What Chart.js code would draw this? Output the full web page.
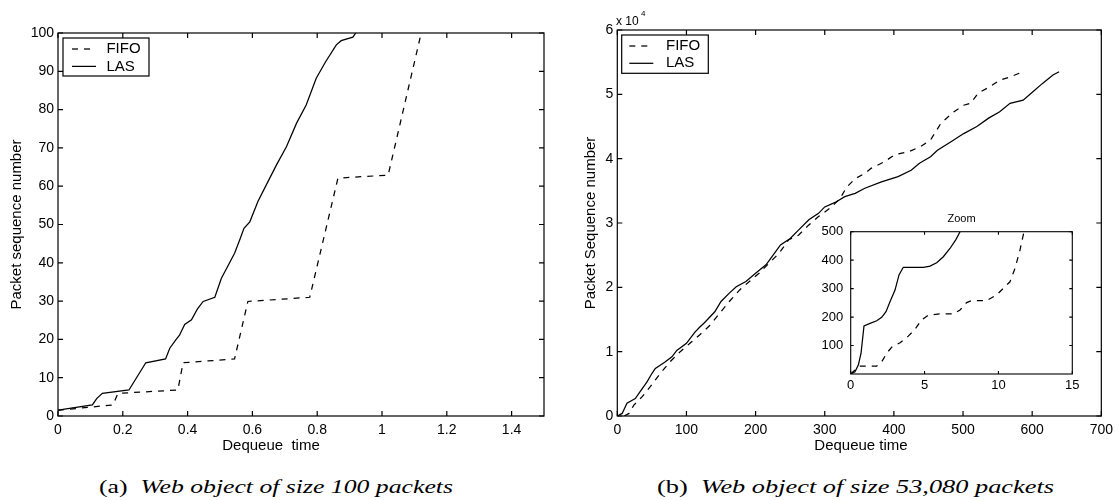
<!DOCTYPE html>
<html>
<head>
<meta charset="utf-8">
<script src="https://cdn.jsdelivr.net/npm/chart.js@4.4.1/dist/chart.umd.min.js"></script>
<style>
  html, body { margin: 0; padding: 0; background: #fff; width: 1119px; height: 500px; overflow: hidden; }
  canvas { position: absolute; }
  #chartA { left: 0; top: 0; }
  #chartB { left: 560px; top: 0; }
  #chartZ { left: 800px; top: 200px; }
  .cap { position: absolute; top: 477px; font-family: "Liberation Serif", "Times New Roman", Times, serif; font-size: 18px;
         line-height: 20px; white-space: pre; transform-origin: 0 0; color: #000; }
  .cap i { font-style: italic; }
</style>
</head>
<body>
<canvas id="chartA" width="560" height="460"></canvas>
<canvas id="chartB" width="559" height="460"></canvas>
<canvas id="chartZ" width="290" height="200"></canvas>
<div class="cap" id="capA">(a)  <i>Web object of size 100 packets</i></div>
<div class="cap" id="capB">(b)  <i>Web object of size 53,080 packets</i></div>

<script>
// ---------- (a) web object of 100 packets ----------
const fifoTimeA = [0, 0.170, 0.185, 0.370, 0.386, 0.545, 0.586, 0.777, 0.864, 1.019, 1.121];
const fifoSeqA  = [1.5, 2.9, 5.9, 6.8, 13.9, 14.9, 29.9, 31.0, 62.1, 62.9, 100];
const lasTimeA  = [0, 0.106, 0.120, 0.137, 0.219, 0.271, 0.332, 0.345, 0.363, 0.375, 0.391, 0.412, 0.430,
                   0.448, 0.484, 0.504, 0.530, 0.545, 0.561, 0.574, 0.592, 0.617, 0.648, 0.674, 0.705,
                   0.736, 0.766, 0.797, 0.826, 0.859, 0.874, 0.910, 0.919];
const lasSeqA   = [1.5, 2.9, 4.6, 5.9, 6.8, 13.9, 14.9, 17.7, 19.8, 21.1, 23.9, 25.1, 27.9,
                   29.9, 31.0, 35.9, 40.1, 42.5, 46.0, 49.0, 50.7, 56.0, 61.2, 65.5, 70.3,
                   76.4, 81.2, 88.2, 92.5, 96.9, 98.0, 98.9, 100];
const xTicksA = [0, 0.2, 0.4, 0.6, 0.8, 1, 1.2, 1.4];
const yTicksA = [0, 10, 20, 30, 40, 50, 60, 70, 80, 90, 100];

// ---------- (b) web object of 53,080 packets ----------
const fifoTimeB = [10, 17, 24, 36, 48, 62, 76, 91, 105, 119, 134, 146, 162, 177, 191, 205, 219, 234, 248, 262,
                   277, 291, 310, 322, 332, 344, 358, 367, 386, 401, 422, 439, 453, 468, 487, 501, 511, 522,
                   539, 553, 568, 582];
const fifoSeqB  = [0, 400, 1700, 3000, 4600, 6600, 8400, 10000, 11300, 12600, 14100, 15700, 17800, 19600,
                   20900, 22200, 23700, 25300, 27400, 28100, 29700, 31000, 32500, 33800, 35600, 36900,
                   37700, 38500, 39500, 40600, 41100, 41900, 42900, 45500, 47300, 48300, 48600, 50200,
                   51200, 52200, 52700, 53300];
const lasTimeB  = [0, 7, 14, 26, 33, 43, 50, 55, 62, 69, 79, 86, 100, 112, 119, 126, 141, 150, 162, 172, 186,
                   200, 215, 224, 236, 250, 262, 277, 291, 300, 315, 329, 344, 358, 382, 406, 425, 437, 453,
                   463, 482, 501, 520, 537, 553, 568, 587, 601, 615, 630, 639];
const lasSeqB   = [0, 400, 2000, 2700, 3800, 5300, 6600, 7400, 7900, 8400, 9200, 10200, 11300, 13000, 13800,
                   14500, 16200, 17800, 19100, 20100, 20900, 22200, 23500, 24800, 26600, 27600, 28900, 30500,
                   31500, 32500, 33200, 34100, 34600, 35400, 36400, 37200, 38200, 39300, 40300, 41300, 42600,
                   43900, 45000, 46300, 47300, 48600, 49100, 50400, 51700, 53000, 53500];
const xTicksB = [0, 100, 200, 300, 400, 500, 600, 700];
const yTicksB = [0, 10000, 20000, 30000, 40000, 50000, 60000];

// ---------- zoom on the first 15 time units of (b) ----------
const fifoTimeZ = [0, 0.41, 0.63, 1.76, 2.10, 2.44, 2.77, 3.34, 3.90, 4.35, 4.80, 5.26, 6.05, 6.95, 7.40,
                   7.85, 8.19, 9.20, 9.88, 10.33, 10.78, 11.12, 11.46, 11.73];
const fifoSeqZ  = [0, 20, 28, 28, 43, 73, 94, 110, 133, 157, 190, 207, 211, 211, 225, 251, 258, 258, 278,
                   301, 324, 371, 436, 500];
const lasTimeZ  = [0, 0.29, 0.52, 0.70, 0.90, 1.31, 1.76, 2.10, 2.39, 2.66, 3.00, 3.27, 3.56, 4.92, 5.37,
                   5.82, 6.27, 6.72, 7.13, 7.40];
const lasSeqZ   = [0, 8, 32, 73, 169, 178, 187, 199, 219, 254, 295, 348, 375, 375, 379, 391, 412, 441, 473, 500];
const xTicksZ = [0, 5, 10, 15];
const yTicksZ = [100, 200, 300, 400, 500];

const seriesNames = ['FIFO', 'LAS'];

const FONT = '"Liberation Sans", Arial, Helvetica, sans-serif';
Chart.defaults.font.family = FONT;
Chart.defaults.color = '#000';

function pts(xs, ys) { return xs.map((x, i) => ({ x: x, y: ys[i] })); }

function datasets(fifoX, fifoY, lasX, lasY) {
  const common = { borderColor: '#000', borderWidth: 1.25, pointRadius: 0, tension: 0, fill: false };
  return [
    Object.assign({ label: seriesNames[0], data: pts(fifoX, fifoY), borderDash: [6, 6] }, common),
    Object.assign({ label: seriesNames[1], data: pts(lasX, lasY), borderDash: [] }, common)
  ];
}

// Boxed axes with inward tick marks on all four sides, an inset legend and free text.
const boxPlugin = {
  id: 'box',
  beforeDatasetsDraw(chart, args, o) {
    if (!o.fill) return;
    const a = chart.chartArea, c = chart.ctx;
    c.save(); c.fillStyle = '#fff'; c.fillRect(a.left, a.top, a.width, a.height); c.restore();
  },
  afterDatasetsDraw(chart, args, o) {
    const c = chart.ctx, a = chart.chartArea, x = chart.scales.x, y = chart.scales.y;
    c.save();
    c.strokeStyle = '#000';
    c.fillStyle = '#000';
    c.lineWidth = o.lineWidth;
    c.strokeRect(a.left, a.top, a.width, a.height);
    c.beginPath();
    x.ticks.forEach(t => {
      const p = x.getPixelForValue(t.value);
      c.moveTo(p, a.bottom); c.lineTo(p, a.bottom - o.tick);
      c.moveTo(p, a.top); c.lineTo(p, a.top + o.tick);
    });
    y.ticks.forEach(t => {
      const p = y.getPixelForValue(t.value);
      c.moveTo(a.left, p); c.lineTo(a.left + o.tick, p);
      c.moveTo(a.right, p); c.lineTo(a.right - o.tick, p);
    });
    c.stroke();

    const L = o.legend;
    if (L) {
      const bx = a.left + L.dx, by = a.top + L.dy;
      c.fillStyle = '#fff';
      c.fillRect(bx, by, L.w, L.h);
      c.fillStyle = '#000';
      c.lineWidth = o.lineWidth;
      c.strokeRect(bx, by, L.w, L.h);
      chart.data.datasets.forEach((ds, i) => {
        const yy = by + L.rows[i];
        c.setLineDash(ds.borderDash || []);
        c.lineWidth = ds.borderWidth;
        c.beginPath(); c.moveTo(bx + L.lineX, yy); c.lineTo(bx + L.lineX + L.lineLen, yy); c.stroke();
        c.setLineDash([]);
        c.font = L.font;
        c.textAlign = 'left';
        c.textBaseline = 'middle';
        c.fillText(ds.label, bx + L.textX, yy);
      });
    }

    (o.texts || []).forEach(t => {
      c.font = t.font;
      c.textAlign = t.align || 'center';
      c.textBaseline = 'alphabetic';
      c.fillText(t.text, t.x, t.y);
    });
    c.restore();
  }
};

function axes(o) {
  return {
    x: {
      type: 'linear', min: o.xMin, max: o.xMax,
      afterBuildTicks: s => { s.ticks = o.xTicks.map(v => ({ value: v })); },
      afterFit: s => { s.height = o.xH; },
      grid: { display: false, drawTicks: false }, border: { display: false },
      ticks: { padding: o.xPad, font: { size: o.tickSize }, color: '#000', maxRotation: 0, autoSkip: false,
               callback: o.xFmt }
    },
    y: {
      type: 'linear', min: o.yMin, max: o.yMax,
      afterBuildTicks: s => { s.ticks = o.yTicks.map(v => ({ value: v })); },
      afterFit: s => { s.width = o.yW; },
      grid: { display: false, drawTicks: false }, border: { display: false },
      ticks: { padding: o.yPad, font: { size: o.tickSize }, color: '#000', autoSkip: false, callback: o.yFmt },
      title: { display: !!o.yTitle, text: o.yTitle, font: { size: 15 }, color: '#000',
               padding: { top: o.yTitlePad || 0, bottom: 0 } }
    }
  };
}

function makeChart(id, cfg) {
  return new Chart(document.getElementById(id), {
    type: 'line',
    data: { datasets: cfg.datasets },
    options: {
      responsive: false, animation: false, devicePixelRatio: 1, events: [],
      layout: { padding: cfg.padding },
      scales: cfg.scales,
      plugins: { legend: { display: false }, tooltip: { enabled: false }, box: cfg.box }
    },
    plugins: [boxPlugin]
  });
}

const legendFont = '15px ' + FONT;

makeChart('chartA', {
  datasets: datasets(fifoTimeA, fifoSeqA, lasTimeA, lasSeqA),
  padding: { top: 33, right: 16, left: 0, bottom: 0 },
  scales: axes({
    xMin: 0, xMax: 1.5, xTicks: xTicksA, xH: 44, xPad: 6, xFmt: v => String(v),
    yMin: 0, yMax: 100, yTicks: yTicksA, yW: 58, yPad: 4, yFmt: v => String(v),
    tickSize: 14, yTitle: 'Packet sequence number', yTitlePad: 8
  }),
  box: {
    lineWidth: 1.2, tick: 5,
    legend: { dx: 5, dy: 5, w: 86, h: 38, rows: [11, 28.4], lineX: 9, lineLen: 24, textX: 43.4, font: legendFont },
    texts: [{ text: 'Dequeue  time', x: 271, y: 450, font: '15px ' + FONT }]
  }
});

makeChart('chartB', {
  datasets: datasets(fifoTimeB, fifoSeqB, lasTimeB, lasSeqB),
  padding: { top: 30, right: 13.3, left: 0, bottom: 0 },
  scales: axes({
    xMin: 0, xMax: 700, xTicks: xTicksB, xH: 44, xPad: 6, xFmt: v => String(v),
    yMin: 0, yMax: 60000, yTicks: yTicksB, yW: 57.3, yPad: 4, yFmt: v => String(v / 10000),
    tickSize: 14, yTitle: 'Packet Sequence number', yTitlePad: 22
  }),
  box: {
    lineWidth: 1.2, tick: 5,
    legend: { dx: 4.4, dy: 5, w: 86.6, h: 38.3, rows: [11, 28.3], lineX: 7.6, lineLen: 24, textX: 44.3, font: legendFont },
    texts: [
      { text: 'Dequeue time', x: 301, y: 450, font: '15px ' + FONT },
      { text: 'x 10', x: 56, y: 25, font: '12px ' + FONT, align: 'left' },
      { text: '4', x: 81, y: 16, font: '8px ' + FONT, align: 'left' }
    ]
  }
});

makeChart('chartZ', {
  datasets: datasets(fifoTimeZ, fifoSeqZ, lasTimeZ, lasSeqZ),
  padding: { top: 31.7, right: 17.7, left: 0, bottom: 0 },
  scales: axes({
    xMin: 0, xMax: 15, xTicks: xTicksZ, xH: 26, xPad: 4, xFmt: v => String(v),
    yMin: 0, yMax: 500, yTicks: yTicksZ, yW: 50.7, yPad: 7.5, yFmt: v => String(v),
    tickSize: 13
  }),
  box: {
    lineWidth: 1.1, tick: 3, fill: true,
    texts: [{ text: 'Zoom', x: 161.5, y: 21.7, font: '11px ' + FONT }]
  }
});

// Captions: serif text stretched horizontally to its column width.
function fitCaption(id, left, width) {
  const el = document.getElementById(id);
  el.style.left = left + 'px';
  const w = el.getBoundingClientRect().width;
  el.style.transform = 'scaleX(' + (width / w) + ')';
}
fitCaption('capA', 99, 354);
fitCaption('capB', 657, 397);
</script>
</body>
</html>
